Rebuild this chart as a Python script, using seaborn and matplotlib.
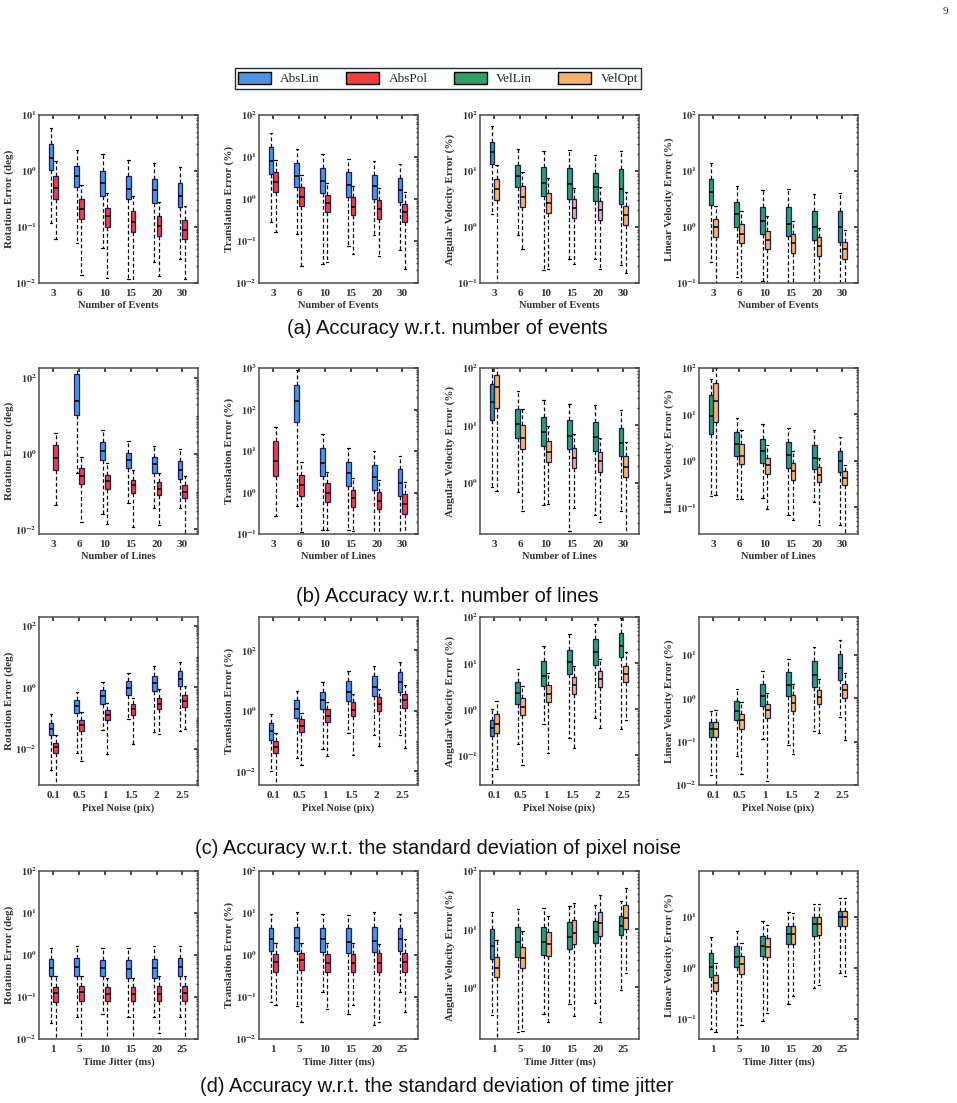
import numpy as np
import pandas as pd
import matplotlib
matplotlib.use("Agg")
import matplotlib.pyplot as plt
import seaborn as sns
from matplotlib.patches import Patch
from matplotlib.ticker import FixedLocator, LogLocator, FuncFormatter, NullFormatter

# categories of each row
events = ["3", "6", "10", "15", "20", "30"]
lines = ["3", "6", "10", "15", "20", "30"]
noise = ["0.1", "0.5", "1", "1.5", "2", "2.5"]
jitter = ["1", "5", "10", "15", "20", "25"]

# box summaries: [low whisker, q1, median, q3, high whisker]
# (a) number of events
ev_rot_abslin = [[0.12, 1.05, 1.7, 3.0, 5.9], [0.052, 0.51, 0.81, 1.23, 2.4], [0.043, 0.36, 0.61, 1.02, 2.0],
                 [0.0117, 0.31, 0.47, 0.80, 1.58], [0.024, 0.27, 0.45, 0.71, 1.37], [0.027, 0.23, 0.36, 0.60, 1.17]]
ev_rot_abspol = [[0.061, 0.32, 0.50, 0.80, 1.5], [0.014, 0.138, 0.21, 0.31, 0.57], [0.0123, 0.10, 0.154, 0.22, 0.40],
                 [0.009, 0.081, 0.122, 0.19, 0.36], [0.0135, 0.07, 0.106, 0.158, 0.285], [0.0117, 0.061, 0.089, 0.134, 0.24]]
ev_tra_abslin = [[0.28, 3.9, 8.1, 17, 38], [0.146, 1.9, 3.55, 7.1, 15.3], [0.029, 1.38, 2.75, 5.6, 11.8],
                 [0.077, 1.1, 2.13, 4.3, 9.0], [0.14, 0.99, 2.05, 3.8, 8.2], [0.06, 0.84, 1.65, 3.2, 6.7]]
ev_tra_abspol = [[0.16, 1.5, 2.56, 4.3, 8.5], [0.026, 0.69, 1.1, 1.91, 3.75], [0.031, 0.5, 0.79, 1.26, 2.38],
                 [0.049, 0.42, 0.66, 1.1, 2.05], [0.043, 0.33, 0.57, 0.95, 1.8], [0.022, 0.29, 0.48, 0.75, 1.43]]
ev_ang_vellin = [[1.74, 13.6, 21.5, 33, 63], [0.71, 5.1, 8.2, 13, 25], [0.17, 3.6, 6.2, 11.6, 23],
                 [0.27, 3.1, 5.75, 11.4, 24], [0.27, 2.9, 5.1, 9.4, 19], [0.21, 2.56, 4.7, 10.7, 22.7]]
ev_ang_velopt = [[0.098, 3.0, 4.7, 7.1, 12.8], [0.41, 2.3, 3.46, 5.4, 9.7], [0.176, 1.79, 2.7, 4.0, 7.5],
                 [0.22, 1.47, 2.14, 3.1, 4.9], [0.18, 1.32, 2.0, 2.9, 5.2], [0.15, 1.08, 1.63, 2.35, 4.2]]
ev_lin_vellin = [[0.24, 2.5, 4.3, 7.1, 13.7], [0.128, 1.02, 1.7, 2.85, 5.5], [0.107, 0.75, 1.26, 2.3, 4.6],
                 [0.095, 0.68, 1.14, 2.3, 4.7], [0.095, 0.59, 1.02, 1.9, 3.9], [0.095, 0.54, 0.98, 1.97, 4.1]]
ev_lin_velopt = [[0.09, 0.65, 0.98, 1.38, 2.4], [0.09, 0.52, 0.76, 1.12, 1.97], [0.09, 0.4, 0.59, 0.86, 1.54],
                 [0.09, 0.34, 0.52, 0.76, 1.3], [0.09, 0.3, 0.46, 0.65, 0.95], [0.09, 0.27, 0.4, 0.55, 0.87]]

# (b) number of lines (AbsLin fails with 3 lines)
ln_rot_abslin = [None, [0.3, 10.4, 24.7, 130, 250], [0.026, 0.67, 1.19, 2.05, 4.3],
                 [0.051, 0.42, 0.67, 1.07, 2.14], [0.036, 0.3, 0.52, 0.82, 1.6], [0.036, 0.22, 0.38, 0.65, 1.3]]
ln_rot_abspol = [[0.044, 0.37, 0.75, 1.7, 3.5], [0.016, 0.163, 0.265, 0.43, 0.82], [0.0138, 0.114, 0.19, 0.28, 0.55],
                 [0.0118, 0.093, 0.145, 0.2, 0.37], [0.013, 0.08, 0.12, 0.18, 0.31], [0.0075, 0.066, 0.098, 0.148, 0.255]]
ln_tra_abslin = [None, [0.47, 50, 160, 400, 890], [0.124, 2.5, 5.2, 11.5, 25],
                 [0.124, 1.42, 2.9, 5.5, 12], [0.09, 1.18, 2.3, 4.7, 10], [0.09, 0.82, 1.65, 3.6, 7.6]]
ln_tra_abspol = [[0.27, 2.5, 5.8, 17, 38], [0.113, 0.83, 1.5, 2.7, 5.5], [0.124, 0.6, 1.0, 1.65, 3.15],
                 [0.12, 0.45, 0.72, 1.18, 2.2], [0.09, 0.39, 0.62, 1.04, 2.05], [0.09, 0.31, 0.52, 0.91, 1.8]]
ln_ang_vellin = [[0.84, 12.4, 25.6, 53, 150], [0.69, 6.1, 10.4, 19.4, 39], [0.42, 4.4, 7.7, 13.9, 28],
                 [0.147, 3.86, 6.5, 12.2, 24], [0.28, 3.6, 6.3, 11.6, 23], [0.32, 2.9, 4.9, 9.0, 18.4]]
ln_ang_velopt = [[0.73, 20, 46, 76, 150], [0.33, 3.86, 6.1, 10, 19], [0.43, 2.27, 3.47, 5.4, 9.7],
                 [0.36, 1.81, 2.74, 4.1, 7.0], [0.21, 1.57, 2.36, 3.47, 6.1], [0.1, 1.29, 1.91, 2.88, 5.2]]
ln_lin_vellin = [[0.175, 3.7, 9.3, 25.8, 59], [0.149, 1.27, 2.27, 4.2, 8.5], [0.161, 0.91, 1.63, 3.0, 6.3],
                 [0.067, 0.71, 1.3, 2.55, 5.1], [0.13, 0.68, 1.17, 2.16, 4.5], [0.042, 0.575, 0.98, 1.63, 3.27]]
ln_lin_velopt = [[0.18, 6.9, 19.5, 48, 100], [0.153, 0.83, 1.27, 2.35, 4.7], [0.09, 0.51, 0.8, 1.17, 2.16],
                 [0.054, 0.38, 0.6, 0.9, 1.63], [0.041, 0.34, 0.5, 0.74, 1.15], [0.02, 0.3, 0.43, 0.6, 0.8]]

# (c) pixel noise
nz_rot_abslin = [[0.0021, 0.028, 0.046, 0.071, 0.136], [0.0075, 0.15, 0.247, 0.39, 0.72], [0.041, 0.30, 0.54, 0.82, 1.53],
                 [0.091, 0.56, 0.93, 1.6, 3.0], [0.036, 0.78, 1.35, 2.4, 4.9], [0.038, 1.1, 1.87, 3.4, 6.5]]
nz_rot_abspol = [[0.0005, 0.0075, 0.0117, 0.0158, 0.028], [0.004, 0.039, 0.059, 0.086, 0.154], [0.0068, 0.086, 0.126, 0.183, 0.32],
                 [0.0143, 0.132, 0.2, 0.287, 0.44], [0.03, 0.197, 0.3, 0.46, 0.86], [0.046, 0.235, 0.37, 0.56, 1.1]]
nz_tra_abslin = [[0.01, 0.11, 0.21, 0.39, 0.8], [0.0275, 0.57, 1.16, 2.19, 4.6], [0.054, 1.16, 2.3, 4.1, 8.8],
                 [0.19, 2.14, 4.2, 9.8, 20.8], [0.16, 2.97, 6.0, 13.5, 29], [0.16, 4.1, 8.6, 18.4, 39]]
nz_tra_abspol = [[0.0025, 0.04, 0.062, 0.097, 0.18], [0.0166, 0.198, 0.32, 0.53, 0.84], [0.033, 0.42, 0.65, 1.13, 1.88],
                 [0.034, 0.65, 1.08, 1.88, 3.6], [0.067, 1.0, 1.66, 2.75, 5.2], [0.059, 1.22, 2.3, 3.45, 7.2]]
nz_ang_vellin = [[0.01, 0.27, 0.4, 0.58, 1.02], [0.18, 1.29, 2.26, 3.9, 7.6], [0.47, 3.2, 5.4, 11.3, 23],
                 [0.24, 5.7, 10.7, 19.6, 43], [0.66, 9.0, 17.2, 33.7, 72], [0.37, 13.3, 24, 45, 93]]
nz_ang_velopt = [[0.05, 0.31, 0.49, 0.78, 1.48], [0.063, 0.74, 1.15, 1.75, 3.2], [0.112, 1.43, 2.15, 3.3, 6.0],
                 [0.144, 2.19, 3.3, 5.0, 8.7], [0.4, 3.06, 4.6, 6.8, 12.2], [0.58, 3.9, 5.7, 8.7, 17.7]]
nz_lin_vellin = [[0.0173, 0.127, 0.2, 0.29, 0.51], [0.046, 0.316, 0.51, 0.84, 1.63], [0.112, 0.67, 1.1, 2.1, 4.3],
                 [0.082, 1.14, 2.05, 4.1, 8.1], [0.175, 1.84, 3.5, 7.1, 15], [0.37, 2.68, 5.0, 10.2, 21.5]]
nz_lin_velopt = [[0.009, 0.127, 0.2, 0.29, 0.54], [0.018, 0.2, 0.31, 0.44, 0.8], [0.0126, 0.345, 0.53, 0.73, 1.29],
                 [0.053, 0.51, 0.76, 1.18, 2.12], [0.155, 0.73, 1.04, 1.54, 2.77], [0.109, 1.0, 1.54, 2.12, 3.76]]

# (d) time jitter
jt_rot_abslin = [[0.024, 0.31, 0.49, 0.8, 1.47], [0.034, 0.31, 0.53, 0.83, 1.6], [0.04, 0.31, 0.49, 0.76, 1.44],
                 [0.033, 0.29, 0.46, 0.76, 1.44], [0.033, 0.29, 0.49, 0.8, 1.6], [0.033, 0.31, 0.51, 0.83, 1.6]]
jt_rot_abspol = [[0.008, 0.078, 0.123, 0.177, 0.31], [0.008, 0.082, 0.13, 0.183, 0.31], [0.008, 0.079, 0.118, 0.177, 0.29],
                 [0.008, 0.079, 0.118, 0.177, 0.29], [0.0138, 0.082, 0.118, 0.183, 0.32], [0.008, 0.082, 0.123, 0.183, 0.31]]
jt_tra_abslin = [[0.078, 1.27, 2.35, 4.5, 9.7], [0.062, 1.27, 2.5, 4.7, 10.3], [0.135, 1.2, 2.35, 4.5, 9.7],
                 [0.04, 1.1, 2.07, 4.3, 9.2], [0.021, 1.16, 2.19, 4.7, 10.3], [0.135, 1.24, 2.35, 4.5, 9.7]]
jt_tra_abspol = [[0.065, 0.4, 0.67, 1.04, 1.96], [0.026, 0.44, 0.76, 1.14, 1.96], [0.051, 0.39, 0.66, 1.04, 1.96],
                 [0.063, 0.4, 0.66, 1.04, 1.9], [0.025, 0.39, 0.63, 1.1, 1.79], [0.045, 0.39, 0.7, 1.14, 2.35]]
jt_ang_vellin = [[0.33, 3.1, 5.1, 10, 20], [0.17, 3.3, 5.9, 10.7, 22], [0.34, 3.6, 6.0, 11, 23],
                 [0.52, 4.5, 7.4, 13.1, 24.8], [0.54, 5.7, 9.0, 14, 26.5], [0.9, 7.9, 11.4, 16.6, 30]]
jt_ang_velopt = [[0.1, 1.5, 2.15, 3.35, 6.4], [0.18, 2.15, 3.2, 4.9, 9.4], [0.25, 3.4, 5.5, 9.0, 17],
                 [0.32, 5.5, 8.7, 14.5, 28], [0.25, 7.5, 12.6, 20, 39], [1.76, 10, 15.3, 26, 51]]
jt_lin_vellin = [[0.063, 0.65, 1.05, 1.98, 3.95], [0.042, 1.02, 1.65, 2.67, 5.2], [0.093, 1.73, 2.71, 4.26, 8.2],
                 [0.2, 2.88, 4.6, 6.6, 12.5], [0.41, 4.2, 7.1, 9.6, 17.7], [0.78, 6.6, 9.7, 13.1, 22.8]]
jt_lin_velopt = [[0.056, 0.35, 0.51, 0.72, 1.26], [0.076, 0.75, 1.17, 1.7, 3.1], [0.129, 1.65, 2.52, 3.77, 6.9],
                 [0.28, 2.88, 4.6, 6.6, 12], [0.46, 4.4, 7.2, 9.7, 17.7], [0.69, 6.6, 10, 13.1, 22.8]]

methods = ["AbsLin", "AbsPol", "VelLin", "VelOpt"]
colors = {"AbsLin": "#4c93e6", "AbsPol": "#f03f3f", "VelLin": "#2e9e6b", "VelOpt": "#f5b26b"}

ylabels = ["Rotation Error (deg)", "Translation Error (%)", "Angular Velocity Error (%)", "Linear Velocity Error (%)"]
xlabels = ["Number of Events", "Number of Lines", "Pixel Noise (pix)", "Time Jitter (ms)"]
captions = ["(a) Accuracy w.r.t. number of events", "(b) Accuracy w.r.t. number of lines",
            "(c) Accuracy w.r.t. the standard deviation of pixel noise",
            "(d) Accuracy w.r.t. the standard deviation of time jitter"]
row_cats = [events, lines, noise, jitter]
row_data = [
    [(ev_rot_abslin, ev_rot_abspol), (ev_tra_abslin, ev_tra_abspol), (ev_ang_vellin, ev_ang_velopt), (ev_lin_vellin, ev_lin_velopt)],
    [(ln_rot_abslin, ln_rot_abspol), (ln_tra_abslin, ln_tra_abspol), (ln_ang_vellin, ln_ang_velopt), (ln_lin_vellin, ln_lin_velopt)],
    [(nz_rot_abslin, nz_rot_abspol), (nz_tra_abslin, nz_tra_abspol), (nz_ang_vellin, nz_ang_velopt), (nz_lin_vellin, nz_lin_velopt)],
    [(jt_rot_abslin, jt_rot_abspol), (jt_tra_abslin, jt_tra_abspol), (jt_ang_vellin, jt_ang_velopt), (jt_lin_vellin, jt_lin_velopt)],
]

# axis limits (log10 exponents) and labelled decades per panel
ylims = [
    [(-2, 1), (-2, 2), (-1, 2), (-1, 2)],
    [(-2.12, 2.26), (-1, 3), (-0.89, 2), (-1.58, 2)],
    [(-3.17, 2.29), (-2.45, 3.09), (-1.64, 2), (-2, 1.87)],
    [(-2, 2), (-2, 2), (-0.89, 2), (-1.39, 1.89)],
]
yticks = [
    [[-2, -1, 0, 1], [-2, -1, 0, 1, 2], [-1, 0, 1, 2], [-1, 0, 1, 2]],
    [[-2, 0, 2], [-1, 0, 1, 2, 3], [0, 1, 2], [-1, 0, 1, 2]],
    [[-2, 0, 2], [-2, 0, 2], [-1, 0, 1, 2], [-2, -1, 0, 1]],
    [[-2, -1, 0, 1, 2], [-2, -1, 0, 1, 2], [0, 1, 2], [-1, 0, 1]],
]


def box_frame(cats, series):
    rows = []
    for method, boxes in series:
        for cat, box in zip(cats, boxes):
            if box is None:
                continue
            for v in box:
                rows.append((cat, method, v))
    return pd.DataFrame(rows, columns=["group", "method", "value"])


sns.set_theme(style="white")
plt.rcParams["font.family"] = ["Liberation Serif", "DejaVu Serif"]
plt.rcParams["font.weight"] = "bold"
plt.rcParams["axes.labelweight"] = "bold"
plt.rcParams["mathtext.fontset"] = "stix"

W, H = 957, 1103
fig = plt.figure(figsize=(W / 100, H / 100), dpi=100, facecolor="white")

lefts = [39, 259, 480, 699]
tops = [115, 368, 617, 871]
heights = [168, 166, 168, 168]
cap_y = [328, 597, 848, 1087]
cap_x = [447, 447, 438, 437]

logfmt = FuncFormatter(lambda v, p: r"$\mathbf{10^{%d}}$" % int(round(np.log10(v))))

for r in range(4):
    cats = row_cats[r]
    for c in range(4):
        ax = fig.add_axes([lefts[c] / W, 1 - (tops[r] + heights[r]) / H, 159 / W, heights[r] / H])
        pair = methods[:2] if c < 2 else methods[2:]
        lo_box, hi_box = row_data[r][c]
        df = box_frame(cats, [(pair[0], lo_box), (pair[1], hi_box)])
        sns.boxplot(data=df, x="group", y="value", hue="method", order=cats, hue_order=pair,
                    palette=colors, saturation=1, width=0.36, gap=0, whis=(0, 100),
                    log_scale=True, showfliers=False, linewidth=0.9, linecolor="black",
                    legend=False, ax=ax,
                    boxprops=dict(edgecolor="#1c1f5e", linewidth=0.9),
                    whiskerprops=dict(color="black", linestyle=(0, (3, 2)), linewidth=0.9),
                    capprops=dict(color="black", linewidth=0.9),
                    medianprops=dict(color="black", linewidth=1.1))
        lo, hi = ylims[r][c]
        ax.set_ylim(10 ** lo, 10 ** hi)
        ax.set_xlim(-0.55, 5.6)
        ax.yaxis.set_major_locator(FixedLocator([10.0 ** t for t in yticks[r][c]]))
        ax.yaxis.set_major_formatter(logfmt)
        ax.yaxis.set_minor_locator(LogLocator(base=10, subs=np.arange(1, 10), numticks=60))
        ax.yaxis.set_minor_formatter(NullFormatter())
        ax.tick_params(axis="both", which="both", direction="in", top=True, right=True,
                       colors="#333333", labelcolor="#333333")
        ax.tick_params(axis="y", which="major", length=3, pad=1.5, labelsize=7.5)
        ax.tick_params(axis="y", which="minor", length=1.8)
        ax.tick_params(axis="x", which="major", length=3, pad=4, labelsize=8)
        for lab in ax.get_xticklabels():
            lab.set_fontweight("bold")
        for sp in ax.spines.values():
            sp.set_color("#4d4d4d")
            sp.set_linewidth(1.1)
        ax.set_xlabel(xlabels[r], fontsize=7.5, color="#333333")
        ax.set_ylabel(ylabels[c], fontsize=8, color="#333333")
        ax.xaxis.set_label_coords(0.5, -0.11)
        ax.yaxis.set_label_coords(-0.158, 0.5)
    fig.text(cap_x[r] / W, 1 - cap_y[r] / H, captions[r], ha="center", va="center",
             family="Liberation Sans", fontweight="normal", fontsize=14.5, color="#111111")

handles = [Patch(facecolor=colors[m], edgecolor="black", linewidth=1) for m in methods]
leg = fig.legend(handles, methods, loc="center", bbox_to_anchor=(438 / W, 1 - 78.5 / H), ncol=4,
                 frameon=True, fancybox=False, framealpha=1, edgecolor="#1f3040",
                 prop={"family": "Liberation Serif", "weight": "normal", "size": 9.5},
                 handlelength=2.5, handleheight=1.05, handletextpad=0.7, columnspacing=2.0,
                 borderpad=0.25)
leg.get_frame().set_linewidth(1.0)

fig.text(945 / W, 1 - 12 / H, "9", ha="center", va="center", fontsize=8, fontweight="normal")

fig.savefig("out.png", dpi=100, facecolor="white")
